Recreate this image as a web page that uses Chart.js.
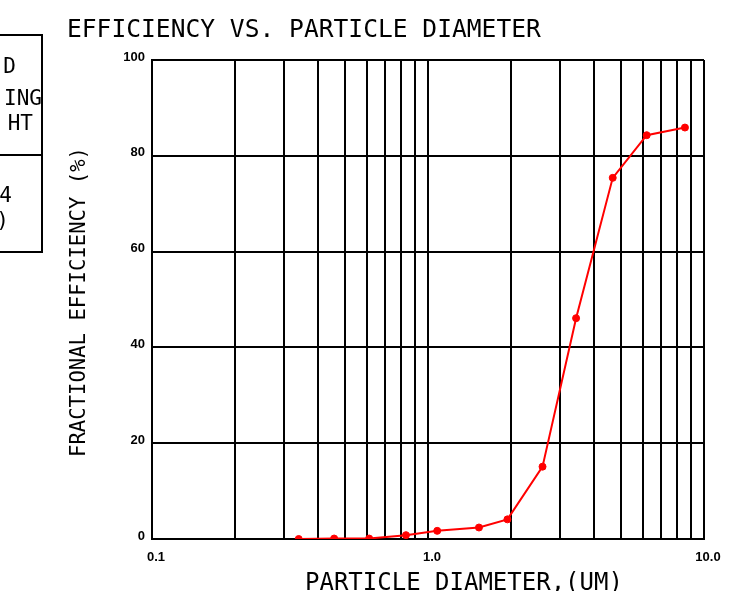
<!DOCTYPE html>
<html>
<head>
<meta charset="utf-8">
<script src="https://cdn.jsdelivr.net/npm/chart.js@4.4.1/dist/chart.umd.min.js"></script>
<style>
  html, body { margin: 0; padding: 0; background: #fff; overflow: hidden; }
</style>
</head>
<body>
<canvas id="effChart" width="753" height="591"></canvas>
<script>
// values
const diameters = [0.34, 0.457, 0.612, 0.832, 1.08, 1.53, 1.94, 2.60, 3.44, 4.67, 6.20, 8.53];
const efficiency = [0.0, 0.1, 0.1, 0.8, 1.7, 2.4, 4.1, 15.1, 46.1, 75.4, 84.3, 85.9];

const xGridValues = [0.1, 0.2, 0.3, 0.4, 0.5, 0.6, 0.7, 0.8, 0.9, 1, 2, 3, 4, 5, 6, 7, 8, 9, 10];
const xLabelValues = [0.1, 1, 10];
const xLabelText = ['0.1', '1.0', '10.0'];
const yTickValues = [0, 20, 40, 60, 80, 100];

const chartTitle = 'EFFICIENCY VS. PARTICLE DIAMETER';
const xTitle = 'PARTICLE DIAMETER,(UM)';
const yTitle = 'FRACTIONAL EFFICIENCY (%)';

// partially visible table at the left edge (only the tails show)
const boxLines = ['D', 'ING', 'HT', '4', '%)'];

const MONO = '"DejaVu Sans Mono", "Liberation Mono", monospace';

const textPlugin = {
    id: 'plotText',
    afterDraw(chart) {
        const ctx = chart.ctx;
        ctx.save();
        ctx.fillStyle = '#000';

        // main title
        ctx.font = '24.6px ' + MONO;
        ctx.textAlign = 'left';
        ctx.textBaseline = 'alphabetic';
        ctx.fillText(chartTitle, 67, 37);

        // x title
        ctx.font = '24px ' + MONO;
        ctx.fillText(xTitle, 305, 590);

        // y title
        ctx.save();
        ctx.font = '20.6px ' + MONO;
        ctx.translate(85, 302);
        ctx.rotate(-Math.PI / 2);
        ctx.textAlign = 'center';
        ctx.fillText(yTitle, 0, 0);
        ctx.restore();

        // cut-off box at the left
        ctx.strokeStyle = '#000';
        ctx.lineWidth = 2;
        ctx.strokeRect(-20, 35, 62, 217);
        ctx.beginPath();
        ctx.moveTo(-20, 155);
        ctx.lineTo(42, 155);
        ctx.stroke();

        ctx.font = '21px ' + MONO;
        ctx.textAlign = 'right';
        const rightX = [16, 42, 33, 12, 9];
        const baseY = [73, 105, 130, 202, 227];
        boxLines.forEach((t, i) => ctx.fillText(t, rightX[i], baseY[i]));

        ctx.restore();
    }
};

new Chart(document.getElementById('effChart'), {
    type: 'line',
    data: {
        datasets: [{
            data: diameters.map((d, i) => ({ x: d, y: efficiency[i] })),
            borderColor: '#ff0000',
            backgroundColor: '#ff0000',
            borderWidth: 2,
            pointRadius: 3.5,
            pointBackgroundColor: '#ff0000',
            pointBorderColor: '#ff0000',
            pointBorderWidth: 1,
            tension: 0,
            fill: false
        }]
    },
    options: {
        responsive: false,
        animation: false,
        layout: { padding: { top: 60, right: 49, left: 0, bottom: 0 } },
        scales: {
            x: {
                type: 'logarithmic',
                min: 0.1,
                max: 10,
                afterBuildTicks: (scale) => {
                    scale.ticks = xGridValues.map(v => ({ value: v }));
                },
                afterFit: (scale) => { scale.height = 52; },
                grid: { color: '#000', lineWidth: 2, drawTicks: false },
                border: { display: true, color: '#000', width: 2 },
                ticks: {
                    autoSkip: false,
                    maxRotation: 0,
                    padding: 11,
                    labelOffset: 4,
                    color: '#000',
                    font: { family: '"Liberation Sans", Arial, sans-serif', size: 13, weight: 'bold' },
                    callback: (value) => {
                        const idx = xLabelValues.findIndex(v => Math.abs(v - value) < 1e-9);
                        return idx >= 0 ? xLabelText[idx] : '';
                    }
                }
            },
            y: {
                min: 0,
                max: 100,
                afterBuildTicks: (scale) => {
                    scale.ticks = yTickValues.map(v => ({ value: v }));
                },
                afterFit: (scale) => { scale.width = 152; },
                grid: { color: '#000', lineWidth: 2, drawTicks: false },
                border: { display: true, color: '#000', width: 2 },
                ticks: {
                    padding: 7,
                    labelOffset: -3,
                    color: '#000',
                    font: { family: '"Liberation Sans", Arial, sans-serif', size: 13, weight: 'bold' }
                }
            }
        },
        plugins: {
            legend: { display: false },
            tooltip: { enabled: false },
            title: { display: false }
        }
    },
    plugins: [textPlugin]
});
</script>
</body>
</html>
